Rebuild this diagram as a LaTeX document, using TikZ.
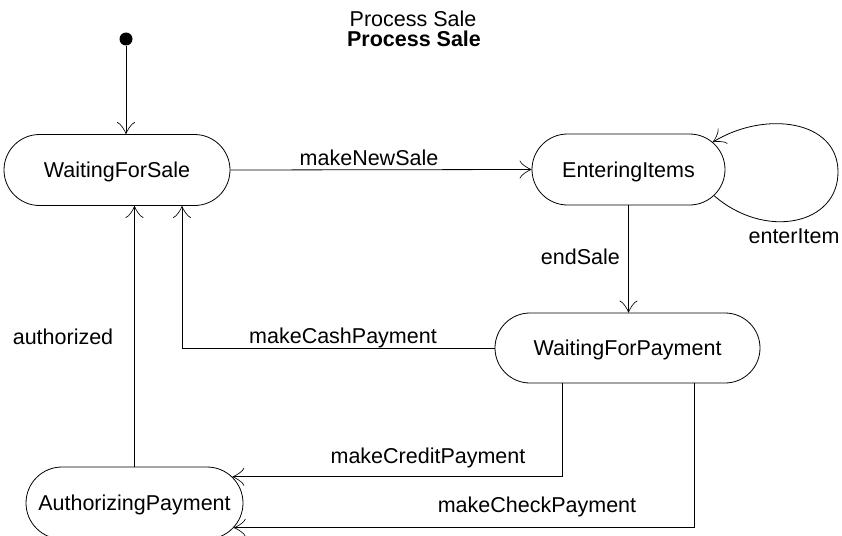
\documentclass[tikz,border=0pt]{standalone}
\usepackage{fontspec}
\setmainfont{Liberation Sans}
\usetikzlibrary{shapes.misc,arrows.meta}
\begin{document}
\begin{tikzpicture}[x=1pt,y=-1pt,
  state/.style={rounded rectangle, draw, line width=0.8pt, inner sep=0pt,
    text height=15.5pt, text depth=0pt, font=\fontsize{21.5}{24}\selectfont},
  lbl/.style={font=\fontsize{21.5}{24}\selectfont, inner sep=0pt, anchor=base},
  arr/.style={line width=0.8pt, -{Classical TikZ Rightarrow[length=12pt,width=18pt]}}]
\useasboundingbox (0,0) rectangle (842,535);

% title
\node[lbl] (t1) at (413,27) {Process Sale};
\node[lbl, font=\fontsize{21.5}{24}\selectfont\bfseries] (t2) at (414,47) {Process Sale};

% initial state
\node[circle, fill=black, inner sep=0pt, minimum size=13pt] (init) at (126,39) {};

% states
\node[state, minimum width=226pt, minimum height=71pt] (WFS) at (117,170) {WaitingForSale};
\node[state, minimum width=193pt, minimum height=71pt] (EI) at (628.5,169.5) {EnteringItems};
\node[state, minimum width=265pt, minimum height=70pt] (WFP) at (627.5,348) {WaitingForPayment};
\node[state, minimum width=217pt, minimum height=72pt] (AP) at (134.5,503) {AuthorizingPayment};

% transitions
\draw[arr] (init) -- (init |- WFS.north);
\draw[arr] (WFS.east) -- (EI.west);
\draw[arr] (EI.-17) .. controls (765,240) and (838,225) .. (838,172)
           .. controls (838,120) and (765,110) .. (EI.18);
\draw[arr] (EI.south) -- (EI.south |- WFP.north);
\draw[arr] (WFP.west) -| ([xshift=65pt]WFS.south);
\draw[arr] (AP.north) -- (AP.north |- WFS.south);
\draw[arr] ([xshift=-65.5pt]WFP.south) |- (AP.15);
\draw[arr] ([xshift=66.5pt]WFP.south) |- (AP.-14);

% labels
\node[lbl] (l1) at (369,165) {makeNewSale};
\node[lbl] (l2) at (794,243) {enterItem};
\node[lbl, anchor=base east] (l3) at (620,264) {endSale};
\node[lbl] (l4) at (343,343) {makeCashPayment};
\node[lbl] (l5) at (63,344) {authorized};
\node[lbl] (l6) at (428,463) {makeCreditPayment};
\node[lbl] (l7) at (537,512) {makeCheckPayment};
\end{tikzpicture}
\end{document}
